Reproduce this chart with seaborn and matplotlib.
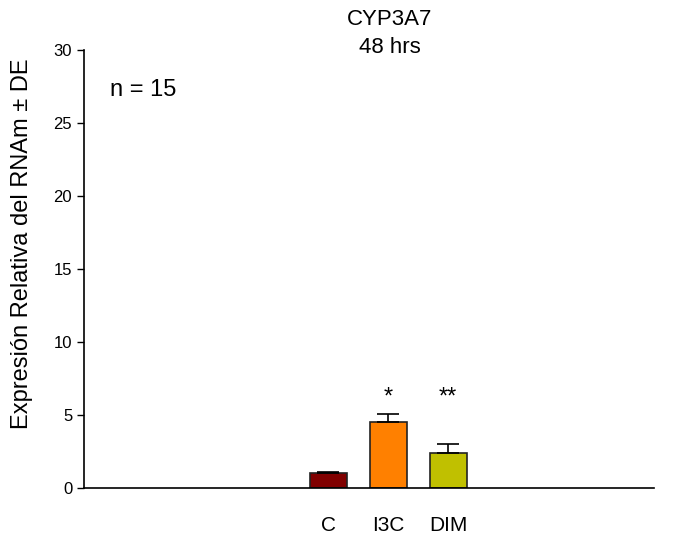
"""CYP3A7 relative mRNA expression at 48 hrs."""

import matplotlib

matplotlib.use("Agg")
import matplotlib.pyplot as plt
import pandas as pd
import seaborn as sns

# Data
treatments = ["C", "I3C", "DIM"]
expression = [1.0, 4.5, 2.38]
std_error = [0.12, 0.59, 0.61]
significance = ["", "*", "**"]
bar_colors = ["#800000", "#FF8000", "#C0C000"]

df = pd.DataFrame({"Tratamiento": treatments, "Expresion": expression})

sns.set_style("ticks")
plt.rcParams["font.family"] = ["Liberation Sans", "DejaVu Sans"]
plt.rcParams["text.color"] = "black"
plt.rcParams["xtick.color"] = "black"
plt.rcParams["ytick.color"] = "black"

fig = plt.figure(figsize=(6.84, 5.34), dpi=100)
ax = fig.add_axes([0.1228, 0.0861, 0.8332, 0.8199])

sns.barplot(
    data=df,
    x="Tratamiento",
    y="Expresion",
    hue="Tratamiento",
    palette=bar_colors,
    saturation=1,
    errorbar=None,
    width=0.62,
    edgecolor="#222222",
    linewidth=1.2,
    legend=False,
    ax=ax,
)

# upward-only error bars
ax.errorbar(
    range(len(treatments)),
    expression,
    yerr=[[0] * len(std_error), std_error],
    fmt="none",
    ecolor="black",
    elinewidth=1.2,
    capsize=8,
    capthick=1.2,
)

for i, mark in enumerate(significance):
    if mark:
        ax.text(i, 6.2, mark, ha="center", va="center", fontsize=17)

ax.set_xlim(-4.07, 5.43)
ax.set_ylim(0, 30)
ax.set_yticks(range(0, 31, 5))
ax.tick_params(axis="y", labelsize=12, length=5, width=1)
ax.tick_params(axis="x", labelsize=15, length=0, pad=20)
ax.set_xlabel("")
ax.set_ylabel("")
sns.despine(ax=ax)
for spine in ("left", "bottom"):
    ax.spines[spine].set_color("black")
    ax.spines[spine].set_linewidth(1.2)

fig.text(22 / 684, 1 - 244 / 534, "Expresión Relativa del RNAm ± DE",
         rotation=90, ha="center", va="center", fontsize=17)
fig.text(0.570, 1 - 9 / 534, "CYP3A7\n48 hrs", ha="center", va="top",
         fontsize=16, linespacing=1.45)
ax.text(0.045, 0.895, "n = 15", transform=ax.transAxes, fontsize=17)

fig.savefig("out.png", dpi=100)
